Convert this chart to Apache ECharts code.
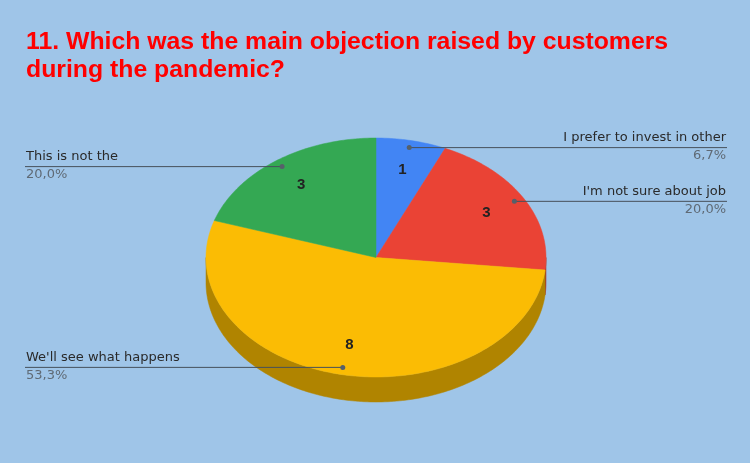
<!DOCTYPE html>
<html><head><meta charset="utf-8">
<script src="https://cdn.jsdelivr.net/npm/echarts@6/dist/echarts.min.js"></script>
<style>html,body{margin:0;padding:0;background:#9fc5e8;}#c{width:750px;height:463px;}</style>
</head><body><div id="c"></div>
<script>
const titleText = '11. Which was the main objection raised by customers\nduring the pandemic?';
const categories = ['I prefer to invest in other', "I'm not sure about job", "We'll see what happens", 'This is not the'];
const values = [1, 3, 8, 3];

const topColors = ['#4285f4', '#ea4335', '#fbbc04', '#34a853'];
const sideColors = ['#2e5dab', '#a42f25', '#b08400', '#24763a'];

const total = values.reduce((a, b) => a + b, 0);
const pctText = values.map(v => (v / total * 100).toFixed(1).replace('.', ','));
const starts = [], ends = [];
let acc = 0;
values.forEach(v => { starts.push(acc / total * 2 * Math.PI); acc += v; ends.push(acc / total * 2 * Math.PI); });

const cx = 376, cy = 257.5, rx = 170, ry = 119.5, depth = 25;
const leftX = 25, rightX = 727;
function P(t, r, dz) { return [cx + rx * r * Math.sin(t), cy - ry * r * Math.cos(t) + (dz || 0)]; }
function arc(a0, a1, r, dz) {
  const pts = [];
  const n = Math.max(2, Math.ceil((a1 - a0) / (Math.PI / 180)));
  for (let k = 0; k <= n; k++) pts.push(P(a0 + (a1 - a0) * k / n, r, dz));
  return pts;
}

const chart = echarts.init(document.getElementById('c'), null, { renderer: 'canvas' });
const data = values.map((v, i) => [i, v]);
const labelFont = '13px "DejaVu Sans", Roboto, sans-serif';

chart.setOption({
  backgroundColor: '#9fc5e8',
  animation: false,
  title: {
    text: titleText, left: 26, top: 28, padding: 0,
    textStyle: { color: '#ff0000', fontFamily: '"Liberation Sans", Arial, sans-serif', fontWeight: 'bold', fontSize: 24.8, lineHeight: 28 }
  },
  series: [
    {
      type: 'custom', coordinateSystem: 'none', data: data, z: 1,
      renderItem: function (params, api) {
        const i = api.value(0);
        const a0 = Math.max(starts[i], Math.PI / 2), a1 = Math.min(ends[i], Math.PI * 1.5);
        if (a1 <= a0) return { type: 'group', children: [] };
        const top = arc(a0, a1, 1, 0), bot = arc(a0, a1, 1, depth).reverse();
        return { type: 'polygon', shape: { points: top.concat(bot) }, style: { fill: sideColors[i], stroke: sideColors[i], lineWidth: 0.5 } };
      }
    },
    {
      type: 'custom', coordinateSystem: 'none', data: data, z: 2,
      renderItem: function (params, api) {
        const i = api.value(0);
        const a0 = starts[i], a1 = ends[i], mid = (a0 + a1) / 2;
        const pts = [[cx, cy]].concat(arc(a0, a1, 1, 0));
        const vp = P(mid, 0.75), dp = P(mid, 0.94);
        const right = Math.sin(mid) > 0;
        const ex = right ? rightX : leftX;
        const tx = right ? rightX - 1 : leftX + 1;
        return {
          type: 'group',
          children: [
            { type: 'polygon', z2: 1, shape: { points: pts }, style: { fill: topColors[i], stroke: topColors[i], lineWidth: 0.5 } },
            { type: 'text', z2: 5, style: { x: vp[0], y: vp[1], text: String(api.value(1)), fill: '#222222', font: 'bold 15px "Liberation Sans", Arial, sans-serif', align: 'center', verticalAlign: 'middle' } },
            { type: 'line', z2: 6, shape: { x1: dp[0], y1: dp[1], x2: ex, y2: dp[1] }, style: { stroke: '#46505a', lineWidth: 1 } },
            { type: 'circle', z2: 7, shape: { cx: dp[0], cy: dp[1], r: 2.5 }, style: { fill: '#56606a' } },
            { type: 'text', z2: 6, style: { x: tx, y: dp[1] - 3, text: categories[i], fill: '#2a2a2a', font: labelFont, align: right ? 'right' : 'left', verticalAlign: 'bottom' } },
            { type: 'text', z2: 6, style: { x: tx, y: dp[1] + 2, text: pctText[i] + '%', fill: '#5f6a75', font: labelFont, align: right ? 'right' : 'left', verticalAlign: 'top' } }
          ]
        };
      }
    }
  ]
});
</script></body></html>
